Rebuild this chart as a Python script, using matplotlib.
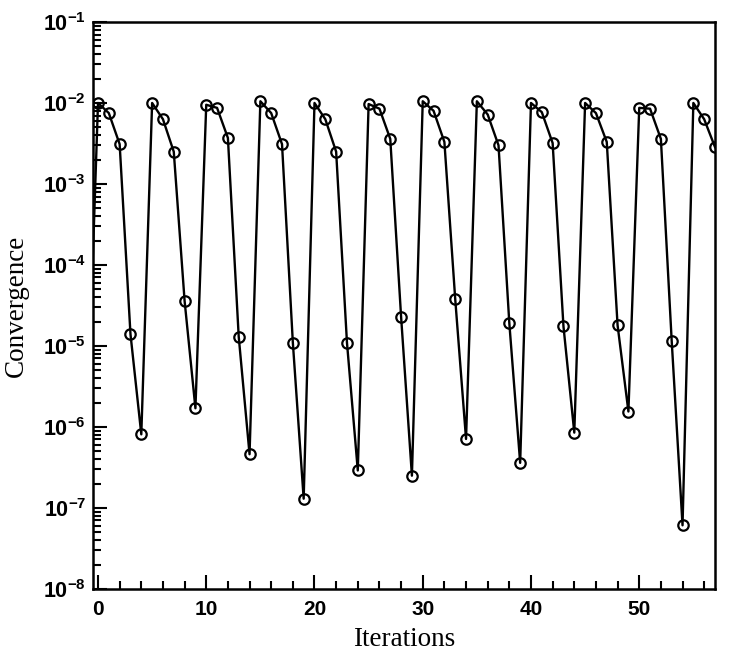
import matplotlib
matplotlib.use("Agg")
import matplotlib.pyplot as plt
from matplotlib.ticker import LogLocator, MultipleLocator, FixedLocator, NullFormatter
import numpy as np

iterations = list(range(-1, 58))
convergence = [
    1.0e-6,
    1.0e-2, 7.5e-3, 3.1e-3, 1.4e-5, 8.1e-7,
    1.0e-2, 6.3e-3, 2.5e-3, 3.6e-5, 1.7e-6,
    9.5e-3, 8.7e-3, 3.7e-3, 1.3e-5, 4.6e-7,
    1.05e-2, 7.5e-3, 3.1e-3, 1.1e-5, 1.3e-7,
    1.0e-2, 6.3e-3, 2.5e-3, 1.1e-5, 2.9e-7,
    9.7e-3, 8.5e-3, 3.6e-3, 2.3e-5, 2.5e-7,
    1.05e-2, 8.0e-3, 3.3e-3, 3.8e-5, 7.1e-7,
    1.05e-2, 7.2e-3, 3.0e-3, 1.9e-5, 3.6e-7,
    1.0e-2, 7.7e-3, 3.2e-3, 1.75e-5, 8.5e-7,
    1.0e-2, 7.5e-3, 3.3e-3, 1.8e-5, 1.55e-6,
    8.7e-3, 8.5e-3, 3.6e-3, 1.15e-5, 6.1e-8,
    1.0e-2, 6.3e-3, 2.85e-3,
]
y_tick_exponents = [-8, -7, -6, -5, -4, -3, -2, -1]
x_ticks = [0, 10, 20, 30, 40, 50]

plt.rcParams['mathtext.default'] = 'regular'

fig = plt.figure(figsize=(7.29, 6.58), dpi=100)
ax = fig.add_axes([0.1276, 0.105, 0.8532, 0.8616])

ax.plot(iterations, convergence, color='black', lw=1.7,
        marker='o', markersize=7.5, markerfacecolor='none',
        markeredgecolor='black', markeredgewidth=1.6)

ax.set_yscale('log')
ax.set_ylim(1e-8, 1e-1)
ax.set_xlim(-0.46, 57.0)

ax.yaxis.set_major_locator(FixedLocator([10.0 ** e for e in y_tick_exponents]))
ax.yaxis.set_minor_locator(LogLocator(base=10, subs=np.arange(2, 10), numticks=100))
ax.yaxis.set_minor_formatter(NullFormatter())
ax.set_yticklabels(['$10^{%d}$' % e for e in y_tick_exponents],
                   fontsize=15.5, fontweight='bold', family='Liberation Sans')

ax.xaxis.set_major_locator(FixedLocator(x_ticks))
ax.xaxis.set_minor_locator(MultipleLocator(2))
ax.set_xticklabels([str(t) for t in x_ticks], fontsize=15, fontweight='bold',
                   family='Liberation Sans')

ax.tick_params(which='both', direction='in', top=False, right=False, width=1.5)
ax.tick_params(which='major', length=10)
ax.tick_params(axis='y', which='major', pad=5)
ax.tick_params(axis='x', which='major', pad=8)
ax.tick_params(which='minor', length=6)

for s in ax.spines.values():
    s.set_linewidth(1.8)

ax.set_xlabel('Iterations', fontsize=19.5, family='Liberation Serif', labelpad=6)
ax.set_ylabel('Convergence', fontsize=19.5, family='Liberation Serif', labelpad=10)

fig.savefig('out.png', dpi=100)
